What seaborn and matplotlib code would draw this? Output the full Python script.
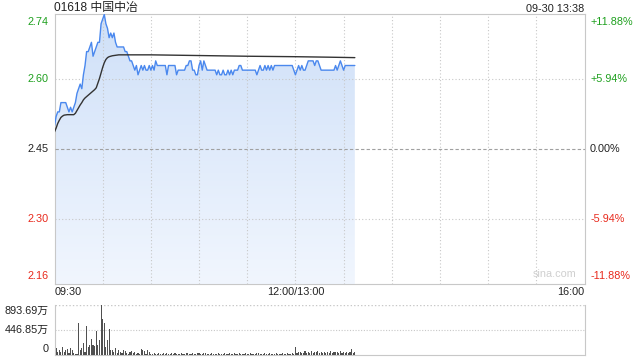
import numpy as np
import pandas as pd
import matplotlib
matplotlib.use("Agg")
import matplotlib.pyplot as plt
from matplotlib.patches import Polygon
from matplotlib.colors import LinearSegmentedColormap
import seaborn as sns

# ---------------- data ----------------
title = "01618 中国中冶"
stamp = "09-30 13:38"
prev_close = 2.45
price_ticks = [2.16, 2.30, 2.45, 2.60, 2.74]
pct_labels = ["-11.88%", "-5.94%", "0.00%", "+5.94%", "+11.88%"]
time_labels = ["09:30", "12:00/13:00", "16:00"]
vol_labels = ["0", "446.85万", "893.69万"]
vol_max = 893.69

price = [
    2.50, 2.52, 2.53, 2.53, 2.55, 2.55, 2.55, 2.55, 2.54, 2.53,
    2.54, 2.53, 2.54, 2.55, 2.57, 2.58, 2.59, 2.58, 2.61, 2.63,
    2.66, 2.66, 2.67, 2.68, 2.65, 2.66, 2.67, 2.68, 2.68, 2.72,
    2.73, 2.74, 2.72, 2.71, 2.69, 2.70, 2.69, 2.70, 2.68, 2.67,
    2.67, 2.67, 2.67, 2.67, 2.66, 2.66, 2.65, 2.64, 2.64, 2.63,
    2.62, 2.63, 2.61, 2.62, 2.63, 2.62, 2.63, 2.62, 2.62, 2.63,
    2.62, 2.63, 2.62, 2.64, 2.63, 2.63, 2.63, 2.63, 2.63, 2.63,
    2.61, 2.63, 2.63, 2.63, 2.63, 2.63, 2.61, 2.62, 2.62, 2.62,
    2.62, 2.62, 2.63, 2.63, 2.64, 2.64, 2.62, 2.62, 2.61, 2.61,
    2.63, 2.64, 2.62, 2.64, 2.63, 2.62, 2.62, 2.62, 2.62, 2.62,
    2.62, 2.61, 2.62, 2.61, 2.61, 2.62, 2.61, 2.61, 2.62, 2.61,
    2.62, 2.61, 2.62, 2.62, 2.62, 2.63, 2.63, 2.62, 2.62, 2.62,
    2.62, 2.62, 2.62, 2.62, 2.62, 2.62, 2.61, 2.62, 2.63, 2.62,
    2.62, 2.63, 2.62, 2.63, 2.62, 2.63, 2.62, 2.63, 2.63, 2.63,
    2.63, 2.63, 2.63, 2.63, 2.63, 2.63, 2.63, 2.63, 2.63, 2.62,
    2.61, 2.62, 2.63, 2.62, 2.63, 2.62, 2.62, 2.63, 2.64, 2.64,
    2.64, 2.64, 2.63, 2.64, 2.64, 2.63, 2.62, 2.62, 2.62, 2.62,
    2.62, 2.62, 2.62, 2.62, 2.62, 2.63, 2.62, 2.63, 2.64, 2.63,
    2.62, 2.63, 2.63, 2.63, 2.63, 2.63, 2.63, 2.63,
]

avg_minute = [0, 1, 2, 3, 4, 5, 6, 8, 10, 12, 13, 14, 15, 16, 17, 18, 19, 20,
              21, 22, 23, 24, 25, 26, 27, 28, 29, 30, 31, 32, 33, 34, 35, 36,
              38, 40, 45, 50, 60, 80, 100, 120, 150, 170, 187]
avg_price = [2.487, 2.495, 2.505, 2.512, 2.518, 2.521, 2.523, 2.524, 2.524,
             2.524, 2.527, 2.533, 2.539, 2.545, 2.550, 2.556, 2.560, 2.563,
             2.566, 2.569, 2.572, 2.575, 2.578, 2.582, 2.592, 2.602, 2.614,
             2.626, 2.636, 2.643, 2.647, 2.649, 2.650, 2.651, 2.652, 2.653,
             2.653, 2.653, 2.653, 2.652, 2.651, 2.650, 2.649, 2.648, 2.647]

volume = [
    90, 120, 55, 90, 50, 145, 60, 90, 105, 40,
    120, 90, 35, 20, 15, 578, 90, 120, 210, 60,
    520, 145, 180, 280, 180, 160, 435, 180, 270, 894,
    638, 566, 145, 270, 465, 90, 90, 60, 120, 40,
    90, 60, 35, 90, 70, 40, 25, 60, 70, 40,
    60, 25, 40, 20, 105, 90, 70, 25, 90, 60,
    25, 20, 30, 15, 25, 35, 20, 25, 30, 20,
    30, 25, 20, 35, 25, 30, 20, 15, 25, 30,
    20, 25, 35, 30, 20, 25, 30, 20, 25, 40,
    30, 20, 25, 30, 35, 20, 25, 20, 30, 25,
    20, 25, 30, 20, 15, 25, 30, 25, 20, 35,
    25, 20, 30, 25, 20, 30, 25, 20, 25, 30,
    20, 25, 30, 25, 20, 25, 30, 35, 25, 20,
    25, 30, 20, 25, 30, 25, 20, 25, 30, 25,
    20, 25, 30, 20, 25, 30, 25, 20, 30, 25,
    140, 30, 45, 60, 35, 40, 65, 30, 55, 40,
    70, 35, 60, 45, 65, 30, 55, 40, 60, 35,
    50, 40, 70, 35, 55, 45, 60, 30, 65, 40,
    55, 40, 60, 35, 50, 100, 40, 50,
]

minutes = list(range(len(price)))
total_minutes = 330

# ---------------- style ----------------
sns.set_style("white")
plt.rcParams["font.family"] = ["Liberation Sans", "Noto Sans CJK SC", "DejaVu Sans"]

GREEN = "#1ea01e"
RED = "#e8291c"
BORDER = "#c8c8c8"
FS = 7.8

fig = plt.figure(figsize=(6.4, 3.6), dpi=100)
W, H = 640.0, 360.0
L, R = 54.5, 584.5
ax = fig.add_axes([L / W, 1 - 284 / H, (R - L) / W, 270 / H])
axv = fig.add_axes([L / W, 1 - 355 / H, (R - L) / W, 50 / H])

ymin = prev_close * (1 - 0.1188)
ymax = prev_close * (1 + 0.1188)

df = pd.DataFrame({"minute": minutes, "price": price})
dfa = pd.DataFrame({"minute": avg_minute, "avg": avg_price})

# gradient fill under price
cmap = LinearSegmentedColormap.from_list("g", ["#f1f6fe", "#cfe0f8"])
grad = np.linspace(0, 1, 256).reshape(-1, 1)
im = ax.imshow(grad, extent=[0, total_minutes, ymin, ymax], origin="lower",
               aspect="auto", cmap=cmap, zorder=1)
verts = list(zip(minutes, price)) + [(minutes[-1], ymin), (minutes[0], ymin)]
poly = Polygon(verts, closed=True, facecolor="none", edgecolor="none")
ax.add_patch(poly)
im.set_clip_path(poly)

sns.lineplot(data=df, x="minute", y="price", ax=ax, color="#4a88ee",
             linewidth=1.0, zorder=4)
sns.lineplot(data=dfa, x="minute", y="avg", ax=ax, color="#333333",
             linewidth=1.0, zorder=5)

ax.set_xlim(0, total_minutes)
ax.set_ylim(ymin, ymax)
ax.set_xlabel("")
ax.set_ylabel("")
ax.set_xticks([])
ax.set_yticks([])

# grid
for gx in range(30, total_minutes, 30):
    ax.axvline(gx, color="#c8c8c8", lw=0.8, ls=(0, (1, 2)), zorder=3)
for p in [price_ticks[1], price_ticks[3]]:
    ax.axhline(p, color="#c8c8c8", lw=0.8, ls=(0, (1, 2)), zorder=3)
ax.axhline(prev_close, color="#a0a0a0", lw=0.8, ls=(0, (3, 2)), zorder=3)

for s in ax.spines.values():
    s.set_color(BORDER)
    s.set_linewidth(0.8)

# y labels
colors = [RED, RED, "#222222", GREEN, GREEN]
vas = ["bottom", "center", "center", "center", "top"]
for p, pl, c, va in zip(price_ticks, pct_labels, colors, vas):
    yy = ymin if va == "bottom" else (ymax if va == "top" else p)
    off = {"bottom": 2, "top": -2, "center": 0}[va]
    ax.annotate(f"{p:.2f}", xy=(0, yy), xycoords=("axes fraction", "data"),
                xytext=(-4, off), textcoords="offset points", ha="right",
                va=va, color=c, fontsize=FS)
    ax.annotate(pl, xy=(1, yy), xycoords=("axes fraction", "data"),
                xytext=(4, off), textcoords="offset points", ha="left",
                va=va, color=c, fontsize=FS)

# time labels
ax.text(0, -0.03, time_labels[0], transform=ax.transAxes, ha="left", va="center",
        fontsize=FS, color="#222222")
ax.text(150 / total_minutes, -0.03, time_labels[1], transform=ax.transAxes,
        ha="center", va="center", fontsize=FS, color="#222222")
ax.text(1, -0.03, time_labels[2], transform=ax.transAxes, ha="right",
        va="center", fontsize=FS, color="#222222")

# header
fig.text(L / W, 1 - 8.5 / H, title, ha="left", va="center", fontsize=8.6,
         color="#222222")
fig.text(R / W, 1 - 8.5 / H, stamp, ha="right", va="center", fontsize=FS,
         color="#222222")

# watermark
ax.text(0.985, 0.018, "sina.com", transform=ax.transAxes, ha="right",
        va="bottom", fontsize=7.8, color="#cfcfcf")

# ---------------- volume ----------------
axv.bar(minutes, volume, width=0.7, color="#505050", linewidth=0, zorder=3)
axv.set_xlim(0, total_minutes)
axv.set_ylim(0, vol_max)
axv.set_xticks([])
axv.set_yticks([])
axv.axhline(vol_max / 2, color="#c8c8c8", lw=0.8, ls=(0, (1, 1.5)), zorder=1)
axv.axhline(vol_max, color="#c8c8c8", lw=1.0, ls=(0, (1, 1.5)), zorder=1)
axv.spines["top"].set_visible(False)
for k in ["left", "right", "bottom"]:
    axv.spines[k].set_color(BORDER)
    axv.spines[k].set_linewidth(0.8)

vvals = [0, vol_max / 2, vol_max]
vvas = ["bottom", "center", "top"]
for v, lab, va in zip(vvals, vol_labels, vvas):
    off = {"bottom": 1, "top": -1, "center": 0}[va]
    axv.annotate(lab, xy=(0, v), xycoords=("axes fraction", "data"),
                 xytext=(-4, off), textcoords="offset points", ha="right",
                 va=va, fontsize=FS, color="#222222")

fig.savefig("out.png", dpi=100)
